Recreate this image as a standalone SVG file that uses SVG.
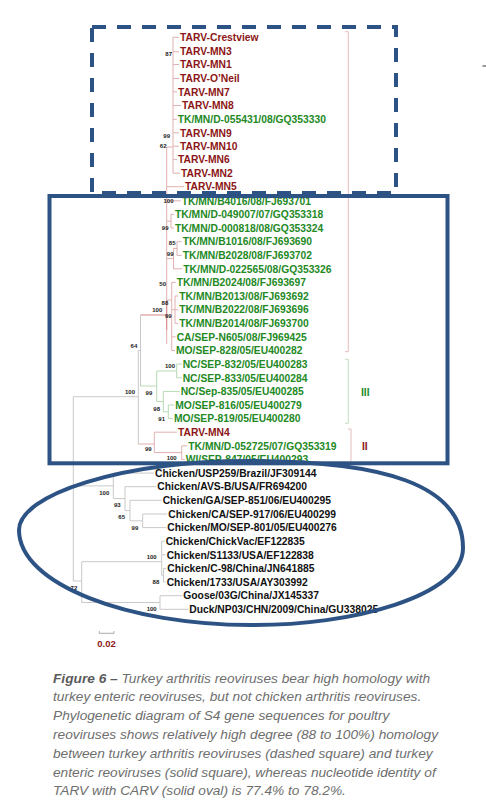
<svg xmlns="http://www.w3.org/2000/svg" width="486" height="809" viewBox="0 0 486 809">
<style>
.lb{font-family:"Liberation Sans",Arial,sans-serif;font-weight:bold;font-size:10.3px}
.r{fill:#8c1616}.g{fill:#24891f}.k{fill:#111}
.bs{font-family:"Liberation Sans",Arial,sans-serif;font-weight:bold;font-size:6px;fill:#222;text-anchor:end}
.pk{fill:none;stroke:#e2b0b0;stroke-width:1}
.dr{fill:none;stroke:#d48888;stroke-width:1}
.gn{fill:none;stroke:#b7d9b5;stroke-width:1}
.gy{fill:none;stroke:#c9c9c9;stroke-width:1}
.box{fill:none;stroke:#2d5384;stroke-width:4}
.cap{font-family:"Liberation Sans",Arial,sans-serif;font-style:italic;font-size:13.7px;fill:#6e6e6e}
</style>
<rect width="486" height="809" fill="#fff"/>
<g id="connectors">
<path class="pk" d="M173,37.3V173.2M173,37.3H179M173,51.7H179M173,64.5H179M173,78.5H179M173,91.8H177M173,105.5H181M173,119.3H176.7M173,132.8H179M173,146.2H179M173,159.6H177M173,173.2H180"/>
<path class="pk" d="M166.7,147H173M166.7,147V344M166.7,186.7H184M166.7,200.8H180.7M171,214.4V228.1M166.7,221.2H171M171,214.4H174M171,228.1H174M173.5,248.5V268.8M166.7,258.6H173.5M177,241.7V255.4M173.5,248.5H177M177,241.7H181.7M177,255.4H181.7M173.5,268.8H182.3M171.7,282.4V350.5M166.7,300H171.7M171.7,282.4H175.7M175,296V323.3M171.7,309.7H175M175,296H178.3M175,309.7H178.3M175,323.3H178.3M171.7,336.9H175.7M171.7,350.5H175"/>
<path class="dr" d="M140.5,315H166.7M166.7,300V330"/>
<path class="gn" d="M140.5,386H156.7M156.7,371V401.5M156.7,371H176.7M176.7,364.1V377.8M176.7,364.1H181.7M176.7,377.8H181.7M156.7,401.5H163.3M163.3,391.4V411.8M163.3,391.4H179.7M163.3,411.8H168.3M168.3,405V418.6M168.3,405H174.3M168.3,418.6H173"/>
<path class="pk" d="M138.3,444H154.3M154.3,432.2V452.6M154.3,432.2H177M154.3,452.6H181.7M181.7,445.8V459.5M181.7,445.8H187.3M181.7,459.5H184.7"/>
<path class="gy" d="M140.5,315V386M138.3,350.5H140.5M138.3,350.5V444M73.3,396.7H138.3M73.3,396.7V581"/>
<path class="gy" d="M73.3,485.9H113.3M113.3,473.1V498.6M113.3,473.1H154M113.3,498.6H125M125,486.7V510.6M125,486.7H156.3M125,510.6H130M130,500.3V520.8M130,500.3H161.7M130,520.8H142.7M142.7,514V527.6M142.7,514H167.3M142.7,527.6H166.3"/>
<path class="gy" d="M73.3,581H81.7M81.7,561.7V602.5M81.7,561.7H161.7M81.7,602.5H160M161.7,541.2V575.2M161.7,541.2H164.7M161.7,554.8H165.7M161.7,575.2H163.5M163.5,568.4V582M163.5,568.4H166.3M163.5,582H165.7M160,595.7V609.3M160,595.7H182.3M160,609.3H188.3"/>
<path d="M345,31.7H348.3V351.7H345" fill="none" stroke="#e8bcbc" stroke-width="1"/>
<path d="M345,359.3H348.3V423.3H345" fill="none" stroke="#c3dec1" stroke-width="1"/>
<path d="M348,429H351V465H348" fill="none" stroke="#e2bcbc" stroke-width="1"/>
<path d="M99.3,633.3H114M99.3,631V633.3M114,631V633.3" fill="none" stroke="#aaa" stroke-width="1"/>
<path d="M482.5,66H486" stroke="#333" stroke-width="1"/>
</g>
<g id="bootstrap">
<text class="bs" x="172" y="55.5">87</text>
<text class="bs" x="170" y="138">99</text>
<text class="bs" x="166.5" y="148">62</text>
<text class="bs" x="173.5" y="203">100</text>
<text class="bs" x="168.5" y="230.3">99</text>
<text class="bs" x="175.5" y="245.3">85</text>
<text class="bs" x="173.5" y="256">99</text>
<text class="bs" x="166" y="286">50</text>
<text class="bs" x="168.3" y="304.7">88</text>
<text class="bs" x="162.3" y="312">100</text>
<text class="bs" x="171.7" y="318">99</text>
<text class="bs" x="137.3" y="348">64</text>
<text class="bs" x="175" y="368">100</text>
<text class="bs" x="135" y="393.7">100</text>
<text class="bs" x="152.3" y="395.3">99</text>
<text class="bs" x="160" y="411">98</text>
<text class="bs" x="165" y="421">91</text>
<text class="bs" x="151.7" y="451">99</text>
<text class="bs" x="176.7" y="460.3">100</text>
<text class="bs" x="109.3" y="494.7">100</text>
<text class="bs" x="120.7" y="507">93</text>
<text class="bs" x="125" y="519.3">65</text>
<text class="bs" x="138.3" y="530.3">99</text>
<text class="bs" x="156.7" y="558.7">100</text>
<text class="bs" x="159.3" y="583.7">88</text>
<text class="bs" x="77.3" y="590.3">72</text>
<text class="bs" x="156.7" y="611">100</text>
</g>
<g id="tarv-turkey">
<text class="lb r" x="180" y="41">TARV-Crestview</text>
<text class="lb r" x="180" y="55.4">TARV-MN3</text>
<text class="lb r" x="180" y="68.2">TARV-MN1</text>
<text class="lb r" x="180" y="82.2">TARV-O’Neil</text>
<text class="lb r" x="178" y="95.5">TARV-MN7</text>
<text class="lb r" x="182" y="109.2">TARV-MN8</text>
<text class="lb g" x="177.7" y="123">TK/MN/D-055431/08/GQ353330</text>
<text class="lb r" x="180" y="136.5">TARV-MN9</text>
<text class="lb r" x="180" y="149.9">TARV-MN10</text>
<text class="lb r" x="178" y="163.3">TARV-MN6</text>
<text class="lb r" x="181" y="176.9">TARV-MN2</text>
<text class="lb r" x="185" y="190.4">TARV-MN5</text>
</g>
<g id="turkey-enteric">
<text class="lb g" x="181.7" y="204.5">TK/MN/B4016/08/FJ693701</text>
<text class="lb g" x="175" y="218.1">TK/MN/D-049007/07/GQ353318</text>
<text class="lb g" x="175" y="231.8">TK/MN/D-000818/08/GQ353324</text>
<text class="lb g" x="182.7" y="245.4">TK/MN/B1016/08/FJ693690</text>
<text class="lb g" x="182.7" y="259.1">TK/MN/B2028/08/FJ693702</text>
<text class="lb g" x="183.3" y="272.5">TK/MN/D-022565/08/GQ353326</text>
<text class="lb g" x="176.7" y="286.1">TK/MN/B2024/08/FJ693697</text>
<text class="lb g" x="179.3" y="299.7">TK/MN/B2013/08/FJ693692</text>
<text class="lb g" x="179.3" y="313.4">TK/MN/B2022/08/FJ693696</text>
<text class="lb g" x="179.3" y="327">TK/MN/B2014/08/FJ693700</text>
<text class="lb g" x="176.7" y="340.6">CA/SEP-N605/08/FJ969425</text>
<text class="lb g" x="176" y="354.2">MO/SEP-828/05/EU400282</text>
</g>
<g id="clade-III">
<text class="lb g" x="182.7" y="367.8">NC/SEP-832/05/EU400283</text>
<text class="lb g" x="182.7" y="381.5">NC/SEP-833/05/EU400284</text>
<text class="lb g" x="180.7" y="395.1">NC/Sep-835/05/EU400285</text>
<text class="lb g" x="175.3" y="408.7">MO/SEP-816/05/EU400279</text>
<text class="lb g" x="174" y="422.3">MO/SEP-819/05/EU400280</text>
<text class="lb g" x="361" y="396.4">III</text>
</g>
<g id="clade-II">
<text class="lb r" x="178" y="435.9">TARV-MN4</text>
<text class="lb g" x="188.3" y="449.5">TK/MN/D-052725/07/GQ353319</text>
<text class="lb g" x="185.7" y="463.2">WI/SEP-847/05/EU400293</text>
<text class="lb r" x="362" y="450.4">II</text>
</g>
<g id="chicken">
<text class="lb k" x="155" y="476.8">Chicken/USP259/Brazil/JF309144</text>
<text class="lb k" x="157.3" y="490.4">Chicken/AVS-B/USA/FR694200</text>
<text class="lb k" x="162.7" y="504">Chicken/GA/SEP-851/06/EU400295</text>
<text class="lb k" x="168.3" y="517.7">Chicken/CA/SEP-917/06/EU400299</text>
<text class="lb k" x="167.3" y="531.3">Chicken/MO/SEP-801/05/EU400276</text>
<text class="lb k" x="165.7" y="544.9">Chicken/ChickVac/EF122835</text>
<text class="lb k" x="166.7" y="558.5">Chicken/S1133/USA/EF122838</text>
<text class="lb k" x="167.3" y="572.1">Chicken/C-98/China/JN641885</text>
<text class="lb k" x="166.7" y="585.7">Chicken/1733/USA/AY303992</text>
<text class="lb k" x="183.3" y="599.4">Goose/03G/China/JX145337</text>
<text class="lb k" x="189.3" y="613">Duck/NP03/CHN/2009/China/GU338025</text>
</g>
<g id="scale">
<text x="106.5" y="647" font-family="Liberation Sans, Arial, sans-serif" font-weight="bold" font-size="9.5" fill="#8c1616" text-anchor="middle">0.02</text>
</g>
<g id="dashed-square">
<rect class="box" x="92" y="27" width="304" height="166" stroke-dasharray="14 11"/>
</g>
<g id="solid-square">
<rect class="box" x="49.5" y="196" width="398" height="267.3"/>
</g>
<g id="solid-oval">
<path class="box" stroke-width="4.5" d="M19,530C19,495 120,461 250,461C382,461 463,484 463,548C463,596 352,626 250,625C130,625 19,585 19,530Z"/>
</g>
<g id="caption">
<text class="cap" x="53" y="682.5"><tspan font-weight="bold" fill="#5a5a5a">Figure 6 –</tspan> Turkey arthritis reoviruses bear high homology with</text>
<text class="cap" x="53" y="701.3">turkey enteric reoviruses, but not chicken arthritis reoviruses.</text>
<text class="cap" x="53" y="720.1">Phylogenetic diagram of S4 gene sequences for poultry</text>
<text class="cap" x="53" y="738.9">reoviruses shows relatively high degree (88 to 100%) homology</text>
<text class="cap" x="53" y="757.7">between turkey arthritis reoviruses (dashed square) and turkey</text>
<text class="cap" x="53" y="776.5">enteric reoviruses (solid square), whereas nucleotide identity of</text>
<text class="cap" x="53" y="795.3">TARV with CARV (solid oval) is 77.4% to 78.2%.</text>
</g>
</svg>
